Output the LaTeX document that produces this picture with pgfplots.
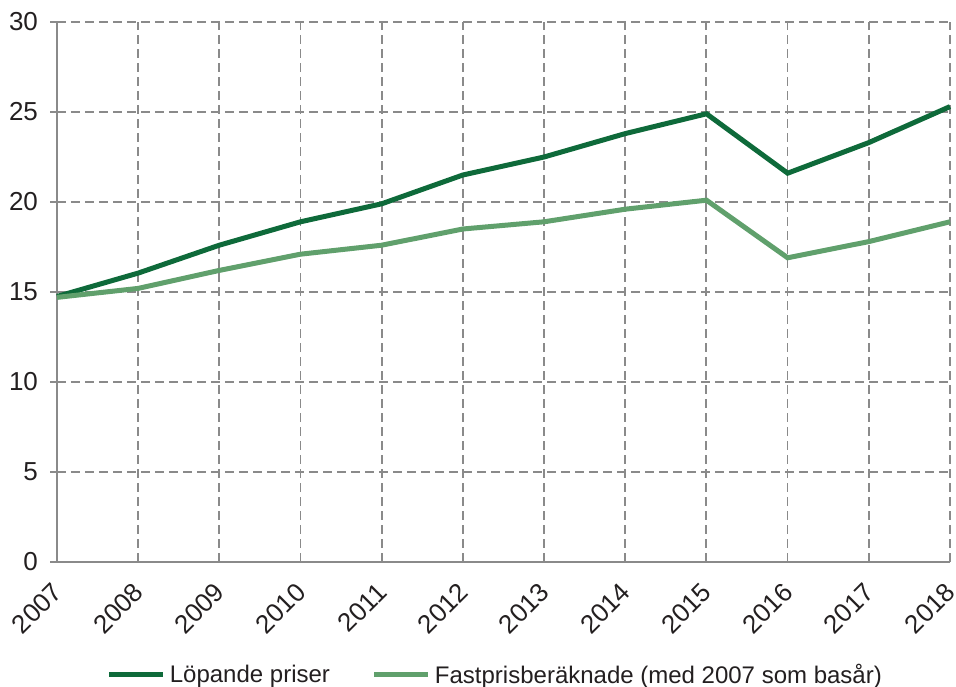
\documentclass[border=0pt]{standalone}
\usepackage{pgfplots}
\pgfplotsset{compat=1.18}
\usepackage{fontspec}
\setmainfont{Liberation Sans}
\definecolor{dgreen}{HTML}{0E6A3A}
\definecolor{lgreen}{HTML}{60A06C}
\definecolor{gridgray}{HTML}{8A8A8A}
\definecolor{txt}{HTML}{231F20}
\begin{document}
\begin{tikzpicture}
\begin{axis}[
  scale only axis,
  width=446.5pt, height=270pt,
  xmin=2007, xmax=2018, ymin=0, ymax=30,
  xtick={2007,...,2018},
  ytick={0,5,...,30},
  xticklabel style={yshift=-4.5pt, xshift=-3pt, rotate=45, anchor=north east, inner sep=1pt, font=\fontsize{13}{15}\selectfont, text=txt},
  yticklabel style={xshift=-2.5pt, font=\fontsize{13}{15}\selectfont, text=txt},
  /pgf/number format/assume math mode=true,
  /pgf/number format/1000 sep={},
  axis x line*=bottom, axis y line*=left,
  axis line style={gridgray, line width=1.1pt, -},
  tick style={gridgray, line width=1pt},
  xtick style={draw=none},
  tick align=outside,
  major tick length=3.5pt,
  grid=major,
  major grid style={gridgray, line width=0.9pt, dash pattern=on 4.5pt off 2.5pt},
  clip=false,
  legend style={at={(axis description cs:0.492,-0.209)}, anchor=center, draw=none, font=\fontsize{12}{14}\selectfont, text=txt, legend columns=2, /tikz/every even column/.append style={column sep=19pt}},
  legend image code/.code={\draw[#1, line width=2.5pt] (0pt,0pt) -- (27pt,0pt);},
]
\coordinate (bl) at (rel axis cs:0,0);
\coordinate (tr) at (rel axis cs:1,1);
\addplot[dgreen, line width=2.5pt] coordinates {
 (2007,14.75) (2008,16.05) (2009,17.6) (2010,18.9) (2011,19.9) (2012,21.5)
 (2013,22.5) (2014,23.8) (2015,24.9) (2016,21.6) (2017,23.3) (2018,25.3)};
\addlegendentry{Löpande priser}
\addplot[lgreen, line width=2.5pt] coordinates {
 (2007,14.7) (2008,15.2) (2009,16.2) (2010,17.1) (2011,17.6) (2012,18.5)
 (2013,18.9) (2014,19.6) (2015,20.1) (2016,16.9) (2017,17.8) (2018,18.9)};
\addlegendentry{Fastprisberäknade (med 2007 som basår)}
\end{axis}
\pgfresetboundingbox
\path (bl) ++(-28.5pt,-62.5pt) coordinate (A);
\path (tr) ++(3pt,11pt) coordinate (B);
\useasboundingbox (A) rectangle (B);
\end{tikzpicture}
\end{document}
